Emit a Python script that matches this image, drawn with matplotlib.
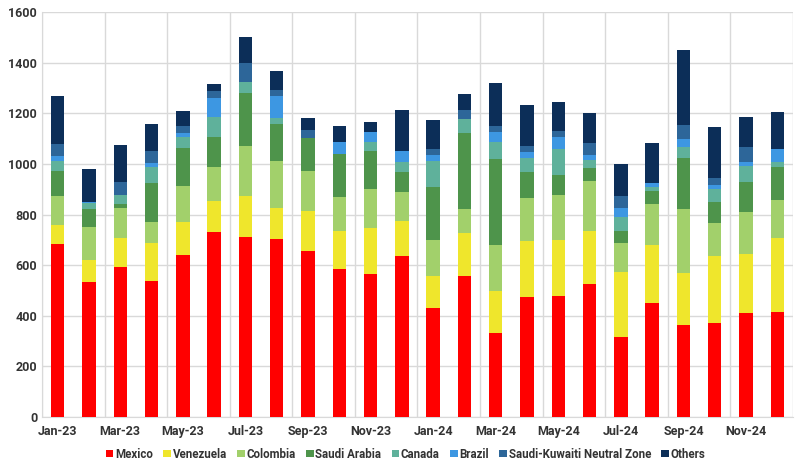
import numpy as np
import matplotlib.pyplot as plt
from matplotlib.patches import Patch

plt.rcParams['font.family'] = ['Roboto', 'DejaVu Sans']

months = ['Jan-23', 'Feb-23', 'Mar-23', 'Apr-23', 'May-23', 'Jun-23',
          'Jul-23', 'Aug-23', 'Sep-23', 'Oct-23', 'Nov-23', 'Dec-23',
          'Jan-24', 'Feb-24', 'Mar-24', 'Apr-24', 'May-24', 'Jun-24',
          'Jul-24', 'Aug-24', 'Sep-24', 'Oct-24', 'Nov-24', 'Dec-24']

mexico = [682, 535, 593, 539, 640, 729, 710, 705, 656, 586, 564, 635,
          430, 559, 331, 476, 478, 524, 316, 451, 362, 373, 411, 414]
venezuela = [77, 87, 116, 149, 132, 123, 162, 121, 156, 147, 184, 140,
             129, 168, 168, 218, 222, 209, 257, 230, 205, 265, 231, 292]
colombia = [113, 129, 116, 84, 141, 136, 198, 185, 158, 138, 153, 114,
            141, 96, 181, 173, 177, 200, 115, 161, 255, 129, 167, 153]
saudi = [100, 70, 17, 153, 149, 117, 211, 147, 134, 168, 151, 79,
         208, 299, 341, 101, 80, 52, 47, 49, 203, 84, 121, 128]
canada = [41, 24, 37, 63, 45, 82, 44, 25, 0, 0, 33, 38,
          103, 55, 67, 57, 100, 31, 54, 17, 42, 49, 63, 20]
brazil = [20, 6, 0, 16, 14, 73, 0, 84, 0, 49, 42, 43,
          25, 0, 37, 21, 48, 18, 37, 16, 32, 18, 16, 51]
sknz = [46, 0, 49, 45, 27, 29, 73, 24, 28, 0, 0, 0,
        23, 37, 24, 26, 24, 50, 46, 0, 54, 27, 56, 0]
others = [191, 128, 147, 108, 60, 27, 105, 77, 51, 62, 39, 162,
          114, 63, 169, 161, 117, 116, 127, 157, 295, 199, 119, 145]

names = ['Mexico', 'Venezuela', 'Colombia', 'Saudi Arabia', 'Canada',
         'Brazil', 'Saudi-Kuwaiti Neutral Zone', 'Others']
series = [mexico, venezuela, colombia, saudi, canada, brazil, sknz, others]
colors = ['#ff0000', '#efe62c', '#a2d06b', '#4e944b', '#5fb19b',
          '#3d97e2', '#2d6699', '#0c2e58']

fig = plt.figure(figsize=(8, 4.7), dpi=100)
ax = fig.add_axes([42 / 800, 1 - 417 / 470, 751 / 800, 405 / 470])

x = np.arange(len(months))
bottom = np.zeros(len(months))
for vals, c in zip(series, colors):
    ax.bar(x, vals, width=0.43, bottom=bottom, color=c, zorder=3)
    bottom += np.array(vals)

ax.set_xlim(-0.5, len(months) - 0.5)
ax.set_ylim(0, 1600)
ax.set_yticks(range(0, 1601, 200))
ax.set_xticks(x[::2])
ax.set_xticklabels(months[::2])
ax.set_xticks(np.arange(-0.5, len(months), 2), minor=True)
ax.grid(axis='y', color='#d9d9d9', lw=1, zorder=0)
ax.grid(axis='x', which='minor', color='#d9d9d9', lw=1, zorder=0)
ax.tick_params(axis='both', which='both', length=0)
ax.tick_params(axis='both', labelsize=9, labelcolor='#333333')
for lab in ax.get_xticklabels() + ax.get_yticklabels():
    lab.set_fontweight('bold')
ax.tick_params(axis='x', pad=6)
for s in ['top', 'right']:
    ax.spines[s].set_visible(False)
ax.spines['left'].set_color('#d9d9d9')
ax.spines['bottom'].set_color('#d9d9d9')

handles = [Patch(facecolor=c, label=n) for n, c in zip(names, colors)]
leg = fig.legend(handles=handles, loc='center', bbox_to_anchor=(0.507, 1 - 454 / 470),
                 ncol=8, frameon=False, handlelength=0.65, handleheight=0.65,
                 handletextpad=0.15, columnspacing=0.9,
                 prop={'weight': 'bold', 'size': 8.3})
for t in leg.get_texts():
    t.set_color('#333333')

fig.savefig('out.png', dpi=100)
